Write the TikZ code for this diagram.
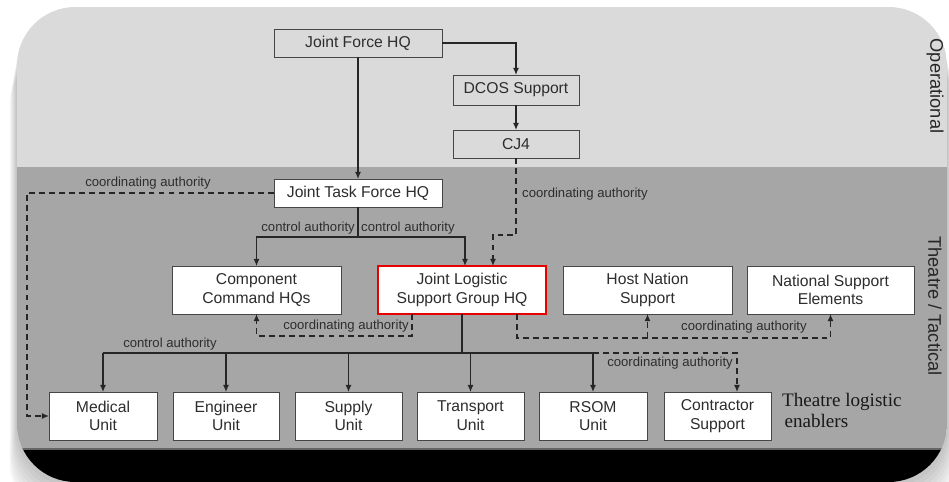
\documentclass[tikz,border=0pt]{standalone}
\usepackage{fontspec}
\setmainfont{Liberation Sans}
\newfontfamily\notefont{Liberation Serif}
\usetikzlibrary{arrows.meta}
\definecolor{opgray}{RGB}{218,218,218}
\definecolor{thgray}{RGB}{166,166,166}
\definecolor{linegray}{RGB}{70,70,70}
\definecolor{textgray}{RGB}{45,45,45}
\definecolor{hqred}{RGB}{230,0,0}

\begin{document}
\begin{tikzpicture}[x=0.03cm, y=-0.03cm,
  >={Latex[length=6pt, width=5pt]},
  hqbox/.style={draw=linegray, fill=white, line width=0.8pt, text=textgray, align=center,
    inner sep=0pt, outer sep=0pt, font=\fontsize{13.4}{16}\selectfont},
  widebox/.style={hqbox, minimum width=5.04cm, minimum height=1.44cm},
  unitbox/.style={hqbox, minimum width=3.21cm, minimum height=1.44cm},
  ctrlline/.style={line width=1pt, color=black!85},
  coordline/.style={ctrlline, dash pattern=on 5pt off 3.5pt},
  authlabel/.style={font=\fontsize{11.2}{13}\selectfont, text=textgray, inner sep=0pt},
  sidelabel/.style={font=\fontsize{15.6}{18}\selectfont, text=black!85, rotate=-90, inner sep=0pt}]
\useasboundingbox (0, 0) rectangle (949, 482);

\foreach \s in {1, ..., 8}
  \fill [black, opacity=0.03, rounded corners=1.75cm] (17-0.9*\s, 7+5*\s) rectangle (947+0.9*\s, 482+5*\s);
\begin{scope}
\clip [rounded corners=1.75cm] (17, 7) rectangle (947, 482);
\fill [opgray] (17, 7) rectangle (947, 167);
\fill [thgray] (17, 167) rectangle (947, 449);
\fill [black] (17, 449) rectangle (947, 482);
\draw [black!60, line width=1pt] (17, 449) -- (947, 449);
\end{scope}

\node [hqbox, fill=opgray, minimum width=5.04cm, minimum height=0.84cm] (jfhq) at (358, 43) {Joint Force HQ};
\node [hqbox, fill=opgray, minimum width=3.78cm, minimum height=0.9cm] (dcos) at (516, 90) {DCOS Support};
\node [hqbox, fill=opgray, minimum width=3.78cm, minimum height=0.84cm] (cj4) at (516, 144) {CJ4};
\node [hqbox, minimum width=5.04cm, minimum height=0.84cm] (jtfhq) at (358, 193) {Joint Task Force HQ};

\node [widebox, minimum width=5.07cm] (cchq) at (256.5, 290) {Component\\Command HQs};
\node [widebox, draw=hqred, line width=1.8pt] (jlsg) at (462, 290) {Joint Logistic\\Support Group HQ};
\node [widebox, minimum width=5.07cm] (hns) at (647.5, 290) {Host Nation\\Support};
\node [widebox, minimum width=5.01cm] (nse) at (830.5, 290) {National Support\\Elements};

\node [unitbox, minimum width=3.24cm] (med) at (103, 416) {Medical\\Unit};
\node [unitbox, minimum width=3.18cm] (eng) at (226, 416) {Engineer\\Unit};
\node [unitbox] (sup) at (348.5, 416) {Supply\\Unit};
\node [unitbox] (trn) at (470.5, 416) {Transport\\Unit};
\node [unitbox, minimum width=3.24cm] (rsom) at (593, 416) {RSOM\\Unit};
\node [unitbox] (con) at (717.5, 416) {Contractor\\Support};

\draw [ctrlline, ->] (jfhq) -- (jtfhq);
\draw [ctrlline, ->] (jfhq.east) -| (dcos.north);
\draw [ctrlline, ->] (dcos) -- (cj4);

\draw [ctrlline] (jtfhq.south) -- ++(0, 30) coordinate (split);
\draw [ctrlline, ->] (split) -| (cchq.north);
\draw [ctrlline, ->] (split) -| ([xshift=0.09cm] jlsg.north);
\node [authlabel, anchor=south east] (ctl1) at (355, 234) {control authority};
\node [authlabel, anchor=south west] (ctl2) at (361, 234) {control authority};

\draw [coordline, ->] (cj4.south) -- ++(0, 77) -| ([xshift=0.93cm] jlsg.north);
\node [authlabel, anchor=west] (ca1) at (522, 194) {coordinating authority};

\coordinate (west) at (27, 193);
\draw [coordline, ->] (jtfhq.west) -- (west) |- (med.west);
\node [authlabel, anchor=south] (ca2) at (148, 189) {coordinating authority};

\draw [coordline, ->] ([xshift=-1.5cm] jlsg.south) -- ++(0, 22) -| (cchq.south);
\node [authlabel, anchor=east] (ca3) at (409, 326) {coordinating authority};

\draw [coordline, ->] ([xshift=1.65cm] jlsg.south) -- ++(0, 24) coordinate (hbus) -| (nse.south);
\draw [coordline, ->] (hbus -| hns.south) -- (hns.south);
\node [authlabel, anchor=west] (ca4) at (681, 327) {coordinating authority};

\draw [ctrlline] (jlsg.south) -- ++(0, 39) coordinate (ubus);
\draw [ctrlline] (ubus -| med.north) -- (ubus -| rsom.north);
\foreach \nm in {med, eng, sup, trn, rsom}
  \draw [ctrlline, ->] (ubus -| \nm.north) -- (\nm.north);
\node [authlabel, anchor=south] (ctl3) at (170, 350) {control authority};

\draw [coordline, ->] (ubus -| rsom.north) -| ([xshift=0.585cm] con.north);
\node [authlabel, anchor=east] (ca5) at (733, 363) {coordinating authority};

\node [sidelabel] (op) at (935, 86) {Operational};
\node [sidelabel] (tt) at (935, 306) {Theatre / Tactical};

\node [anchor=north west, align=left, inner sep=0pt, text=black!90,
  font=\notefont\fontsize{16.3}{18}\selectfont] (enablers) at (782, 393) {Theatre logistic\\\hspace{2pt}enablers};
\end{tikzpicture}
\end{document}
